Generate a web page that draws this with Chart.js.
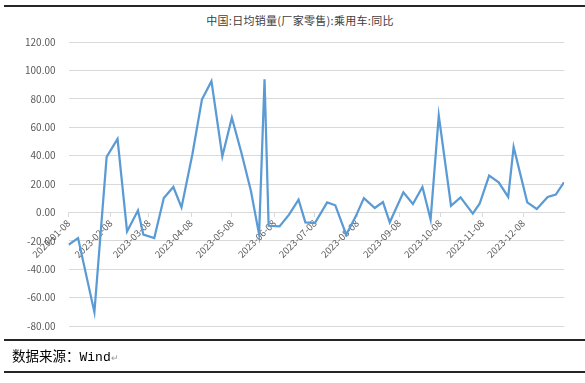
<!DOCTYPE html>
<html>
<head>
<meta charset="utf-8">
<script src="https://cdn.jsdelivr.net/npm/chart.js@4"></script>
<style>
    body { margin: 0; background: #fff; }
    #wrap { position: relative; width: 585px; height: 383px; overflow: hidden; }
    #grafico { position: absolute; left: 0; top: 0; }
    .linea { position: absolute; left: 4px; right: 0; background: #262626; }
    #titulo { position: absolute; top: 12px; left: 200px; width: 200px; text-align: center;
        font: 11px "Noto Sans CJK SC"; color: #404040; letter-spacing: 0.3px; white-space: nowrap; }
    #fuente { position: absolute; left: 12px; top: 345px; font: 13.5px "Noto Sans CJK SC"; color: #000; }
    #fuente .w { font-family: "Liberation Mono"; font-size: 13px; }
    #fuente .r { color: #999; font-size: 9px; }
</style>
</head>
<body>
<div id="wrap">
    <div class="linea" style="top:5px;height:2px"></div>
    <div id="titulo">中国:日均销量(厂家零售):乘用车:同比</div>
    <canvas id="grafico" width="585" height="383"></canvas>
    <div class="linea" style="top:339px;height:1.5px"></div>
    <div id="fuente">数据来源：<span class="w">Wind</span><span class="r">↵</span></div>
    <div class="linea" style="top:371px;height:1.5px"></div>
</div>
<script>
// --- DATOS ---
const fechas = [
    '2023-01-08', '2023-01-15', '2023-01-27', '2023-02-05', '2023-02-13', '2023-02-20', '2023-02-28',
    '2023-03-04', '2023-03-12', '2023-03-19', '2023-03-26', '2023-04-01', '2023-04-09', '2023-04-16',
    '2023-04-23', '2023-05-01', '2023-05-08', '2023-05-15', '2023-05-22', '2023-05-28', '2023-06-01',
    '2023-06-04', '2023-06-12', '2023-06-19', '2023-06-26', '2023-07-01', '2023-07-08', '2023-07-17',
    '2023-07-23', '2023-07-31', '2023-08-07', '2023-08-13', '2023-08-21', '2023-08-27', '2023-09-01',
    '2023-09-11', '2023-09-18', '2023-09-25', '2023-10-01', '2023-10-07', '2023-10-16', '2023-10-23',
    '2023-11-01', '2023-11-06', '2023-11-13', '2023-11-20', '2023-11-27', '2023-12-01', '2023-12-11',
    '2023-12-18', '2023-12-26', '2024-01-01', '2024-01-07'
];
const yoy = [
    -22.8, -18.1, -70.3, 39.1, 51.8, -13.4, 1.4,
    -15.7, -18.1, 10.2, 17.9, 3.5, 41.0, 79.5,
    92.4, 39.5, 66.6, 42.0, 15.0, -15.5, 93.8,
    -9.4, -9.9, -1.6, 9.0, -7.0, -7.5, 7.0,
    5.0, -15.7, -2.8, 10.1, 3.1, 7.3, -7.0,
    14.1, 5.9, 17.9, -5.1, 68.2, 4.7, 10.6,
    -0.9, 6.1, 25.9, 21.2, 10.9, 46.1, 7.1,
    2.4, 10.9, 12.5, 21.2
];
const etiquetasX = [
    '2023-01-08', '2023-02-08', '2023-03-08', '2023-04-08', '2023-05-08', '2023-06-08',
    '2023-07-08', '2023-08-08', '2023-09-08', '2023-10-08', '2023-11-08', '2023-12-08'
];
const ticksY = [-80, -60, -40, -20, 0, 20, 40, 60, 80, 100, 120];

// dias desde la primera fecha
const base = Date.parse(fechas[0]);
const dia = f => (Date.parse(f) - base) / 86400000;

const puntos = fechas.map((f, i) => ({ x: dia(f), y: yoy[i] }));
const diasTicks = etiquetasX.map(dia);

const gris = '#595959';
const fuenteEje = { family: 'Noto Sans CJK SC', size: 10 };

new Chart(document.getElementById('grafico'), {
    type: 'line',
    data: {
        datasets: [{
            data: puntos,
            borderColor: '#5b9bd5',
            borderWidth: 2.25,
            pointRadius: 0,
            tension: 0,
            fill: false
        }]
    },
    options: {
        responsive: false,
        animation: false,
        layout: { padding: { left: 12, right: 21, top: 42, bottom: 57 } },
        plugins: { legend: { display: false }, tooltip: { enabled: false } },
        scales: {
            x: {
                type: 'linear',
                position: { y: 0 },
                min: 0,
                max: dia(fechas[fechas.length - 1]),
                afterBuildTicks: s => { s.ticks = diasTicks.map(v => ({ value: v })); },
                ticks: {
                    autoSkip: false,
                    minRotation: 45,
                    maxRotation: 45,
                    padding: 1,
                    color: gris,
                    font: { family: 'Noto Sans CJK SC', size: 9.5 },
                    callback: (v, i) => etiquetasX[i]
                },
                grid: { drawOnChartArea: false, tickLength: 4, color: '#d9d9d9' },
                border: { color: '#d9d9d9' }
            },
            y: {
                min: -80,
                max: 120,
                afterBuildTicks: s => { s.ticks = ticksY.map(v => ({ value: v })); },
                ticks: {
                    padding: 13,
                    color: gris,
                    font: fuenteEje,
                    callback: v => v.toFixed(2)
                },
                grid: { color: '#d9d9d9', drawTicks: false, lineWidth: 1 },
                border: { display: false }
            }
        }
    }
});
</script>
</body>
</html>
